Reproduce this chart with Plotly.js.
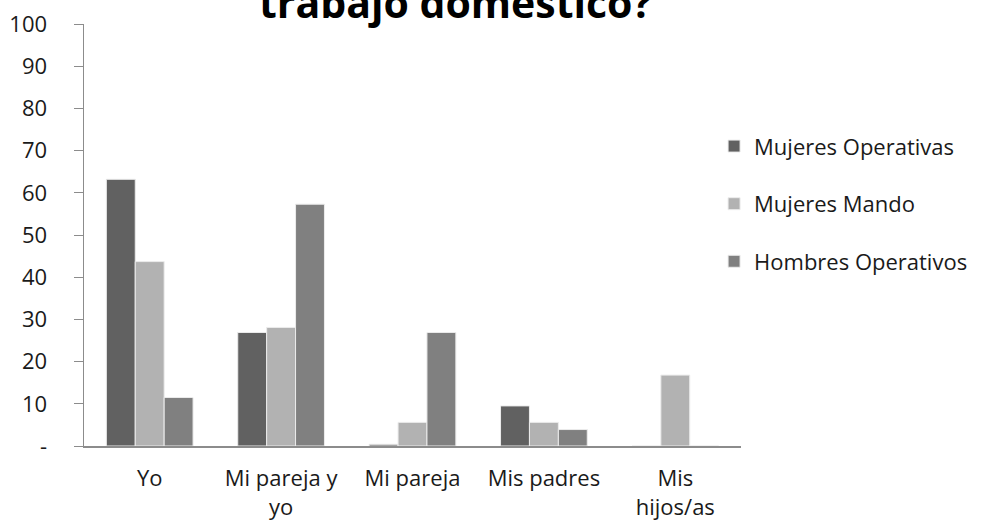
<!DOCTYPE html>
<html>
<head>
<meta charset="utf-8">
<script src="https://cdn.plot.ly/plotly-3.0.1.min.js"></script>
<style>html,body{margin:0;padding:0;background:#fff;}#chart{width:987px;height:520px;}</style>
</head>
<body>
<div id="chart"></div>
<script>
var categories = ["Yo", "Mi pareja y<br>yo", "Mi pareja", "Mis padres", "Mis<br>hijos/as"];
var mujeresOperativas = [63.2, 26.9, 0.4, 9.5, 0];
var mujeresMando = [43.7, 28.1, 5.6, 5.6, 16.8];
var hombresOperativos = [11.5, 57.3, 26.9, 3.9, 0];
var seriesNames = ["Mujeres Operativas", "Mujeres Mando", "Hombres Operativos"];
var yTickVals = [0, 10, 20, 30, 40, 50, 60, 70, 80, 90, 100];
var yTickText = ["-", "10", "20", "30", "40", "50", "60", "70", "80", "90", "100"];
var titleText = "trabajo doméstico?";

var colors = ["#616161", "#b2b2b2", "#808080"];
var values = [mujeresOperativas, mujeresMando, hombresOperativos];
var font = "'Open Sans', Lato, sans-serif";
var txt = "#1a1a1a";

var traces = values.map(function (v, i) {
  return {
    type: "bar",
    x: categories,
    y: v,
    name: seriesNames[i],
    legendgroup: "g" + i,
    marker: { color: colors[i], line: { color: "#ececec", width: 1 } },
    hoverinfo: "x+y+name"
  };
});

var layout = {
  width: 987,
  height: 520,
  margin: { l: 84, r: 246, t: 24, b: 74 },
  paper_bgcolor: "#fff",
  plot_bgcolor: "#fff",
  font: { family: font, size: 22, color: txt },
  barmode: "group",
  bargap: 0.34,
  bargroupgap: 0,
  showlegend: true,
  legend: {
    x: 0.959, xanchor: "left", xref: "paper",
    y: 0.76, yanchor: "top",
    font: { family: font, size: 22, color: txt },
    tracegroupgap: 26,
    traceorder: "grouped",
    itemwidth: 30
  },
  xaxis: {
    type: "category",
    showline: true, linecolor: "#8c8c8c", linewidth: 1.5,
    ticks: "", showgrid: false, zeroline: false,
    ticklabelstandoff: 12,
    tickfont: { family: font, size: 22, color: txt },
    automargin: false
  },
  yaxis: {
    range: [0, 100],
    tickvals: yTickVals, ticktext: yTickText,
    showline: true, linecolor: "#8c8c8c", linewidth: 1.5,
    ticks: "outside", ticklen: 9, tickcolor: "#8c8c8c",
    ticklabelstandoff: 22,
    showgrid: false, zeroline: false,
    tickfont: { family: font, size: 22, color: txt },
    automargin: false
  },
  annotations: [{
    text: "<b>" + titleText + "</b>",
    xref: "paper", yref: "paper",
    x: 0.565, y: 1, yshift: -8,
    xanchor: "center", yanchor: "bottom",
    showarrow: false,
    font: { family: font, size: 41, color: "#000" }
  }]
};

Plotly.newPlot("chart", traces, layout, { displayModeBar: false, staticPlot: true });
</script>
</body>
</html>
